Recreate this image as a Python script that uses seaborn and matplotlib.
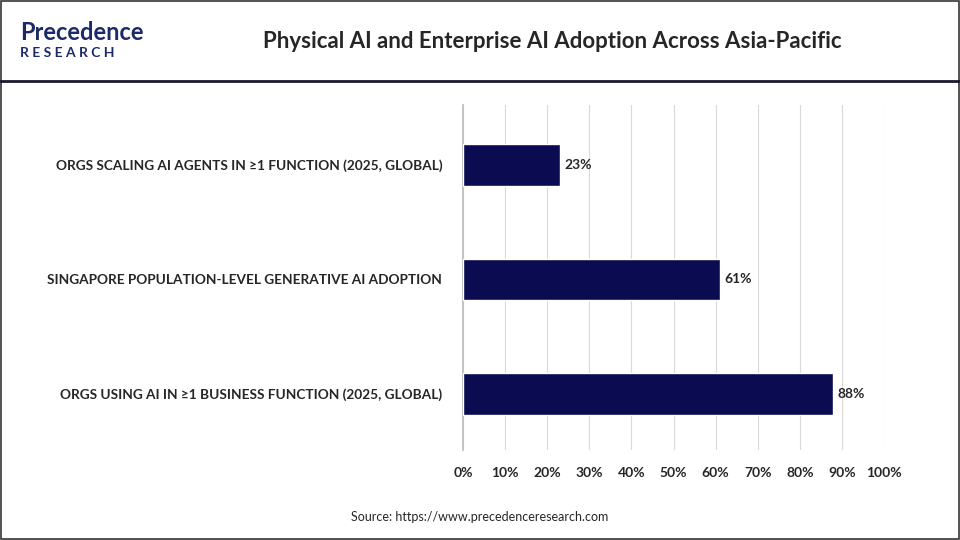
import matplotlib
matplotlib.use("Agg")
import matplotlib.pyplot as plt
import seaborn as sns
import pandas as pd
from matplotlib.patches import Rectangle
from matplotlib.lines import Line2D

categories = ["ORGS SCALING AI AGENTS IN ≥1 FUNCTION (2025, GLOBAL)",
              "SINGAPORE POPULATION-LEVEL GENERATIVE AI ADOPTION",
              "ORGS USING AI IN ≥1 BUSINESS FUNCTION (2025, GLOBAL)"]
values = [23, 61, 88]
xticks = list(range(0, 101, 10))

sns.set_theme(style="white")
plt.rcParams['font.family'] = ['Lato', 'DejaVu Sans']

df = pd.DataFrame({"cat": categories, "val": values})
fig = plt.figure(figsize=(9.6, 5.4), dpi=100)
ax = fig.add_axes([463/960, 1-450/540, 421/960, 345/540])
sns.barplot(data=df, y="cat", x="val", color="#0b0b52", width=0.36, ax=ax, saturation=1, zorder=3)
ax.set_xlim(0, 100)
ax.set_ylim(2.49, -0.524)
ax.set_xticks(xticks)
ax.set_xticklabels([f"{t}%" for t in xticks], fontsize=10, fontweight="bold")
ax.tick_params(axis="x", length=0, pad=12)
ax.tick_params(axis="y", length=0, pad=15)
for lab in ax.get_yticklabels():
    lab.set_fontsize(9.8); lab.set_fontweight("bold")
ax.set_xlabel(""); ax.set_ylabel("")
ax.grid(axis="x", color="#d9d9d9", linewidth=0.8, zorder=0)
for s in ["top", "right", "bottom"]:
    ax.spines[s].set_visible(False)
ax.spines["left"].set_color("#bfbfbf")
for i, v in enumerate(values):
    ax.text(v + 1, i, f"{v}%", va="center", ha="left", fontsize=10, fontweight="bold")

fig.text(552/960, 1-41/540, "Physical AI and Enterprise AI Adoption Across Asia-Pacific",
         ha="center", va="center", fontsize=16, fontweight="bold")
fig.text(480/960, 1-517/540, "Source: https://www.precedenceresearch.com", ha="center", va="center", fontsize=9)
fig.text(20/960, 1-33/540, "Precedence", ha="left", va="center", fontsize=17, fontweight="bold", color="#1c2a6b")
fig.text(20/960, 1-53/540, "R E S E A R C H", ha="left", va="center", fontsize=10, fontweight="bold", color="#1c2a6b")
fig.add_artist(Line2D([0, 1], [1-81/540, 1-81/540], color="#1a1a2e", linewidth=2, transform=fig.transFigure))
fig.add_artist(Rectangle((0.001, 0.001), 0.998, 0.998, fill=False, edgecolor="#333333", linewidth=1.2, transform=fig.transFigure))
fig.savefig("out.png", dpi=100)
